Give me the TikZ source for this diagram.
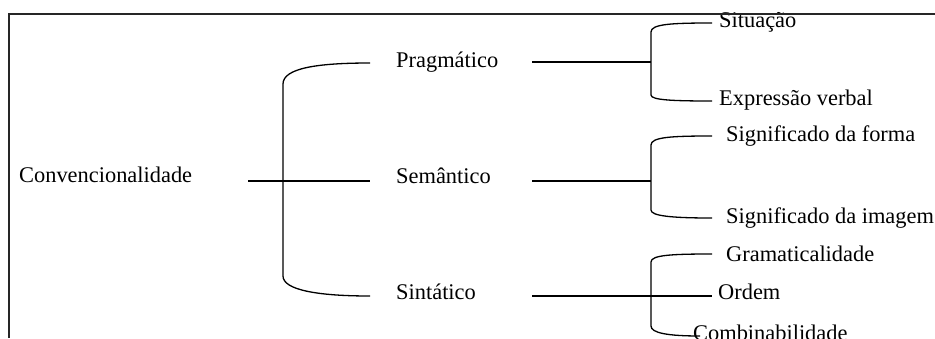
\documentclass[tikz,border=0pt]{standalone}
\usepackage{fontspec}
\setmainfont{Liberation Serif}
\begin{document}
\begin{tikzpicture}[x=1pt,y=-1pt,
  lbl/.style={anchor=base west, inner sep=0pt, font=\fontsize{22.4}{26}\selectfont},
  wire/.style={line width=1.3pt, line cap=butt, line join=round},
  frame/.style={line width=1.3pt, draw=black!85}]
\useasboundingbox (0,0) rectangle (935,338);

% labels
\node[lbl] (conv)   at (19,182)  {Convencionalidade};
\node[lbl] (prag)   at (396,67)  {Pragmático};
\node[lbl] (sem)    at (396,183) {Semântico};
\node[lbl] (sin)    at (396,299) {Sintático};
\node[lbl] (sit)    at (719,27)  {Situação};
\node[lbl] (expr)   at (719,105) {Expressão verbal};
\node[lbl] (sforma) at (726,141) {Significado da forma};
\node[lbl] (simag)  at (726,223) {Significado da imagem};
\node[lbl] (gram)   at (726,261) {Gramaticalidade};
\node[lbl] (ord)    at (718,299) {Ordem};
\node[lbl] (comb)   at (693,340) {Combinabilidade};

% frame (top and left edges)
\draw[frame] (9,338) -- (9,14) -- (935,14);

% junction points
\coordinate (c0)  at (248,181);
\coordinate (p1)  at (370,63);
\coordinate (s1)  at (370,181);
\coordinate (t1)  at (370,296);
\coordinate (pr)  at (532,62);
\coordinate (sr)  at (532,181);
\coordinate (tr)  at (532,296);
\coordinate (pJ)  at (651,62);
\coordinate (sJ)  at (651,181);
\coordinate (pa)  at (712,23);
\coordinate (pb)  at (712,101);
\coordinate (sa)  at (712,136);
\coordinate (sb)  at (712,218);
\coordinate (ga)  at (712,254);
\coordinate (go)  at (712,296);
\coordinate (gb)  at (700,336);

% first-level brace
\draw[wire] (c0) -- (s1);
\draw[wire] (p1) .. controls (318,63) and (283,68) .. (283,84)
            -- (283,276) .. controls (283,290) and (318,296) .. (t1);

% stems to second-level braces
\draw[wire] (pr) -- (pJ);
\draw[wire] (sr) -- (sJ);
\draw[wire] (tr) -- (go);

% second-level braces
\draw[wire] (pa) .. controls (672,23) and (651,24) .. (651,32)
            -- (651,95) .. controls (651,100) and (672,101) .. (pb);
\draw[wire] (sa) .. controls (672,136) and (651,137) .. (651,145)
            -- (651,210) .. controls (651,216) and (672,218) .. (sb);
\draw[wire] (ga) .. controls (672,254) and (651,255) .. (651,262)
            -- (651,326) .. controls (651,333) and (668,336) .. (gb);
\end{tikzpicture}
\end{document}
